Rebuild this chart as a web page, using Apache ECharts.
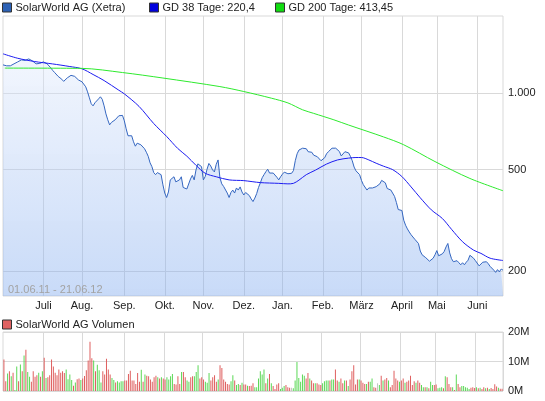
<!DOCTYPE html>
<html>
<head>
<meta charset="utf-8">
<title>SolarWorld AG (Xetra)</title>
<script src="https://cdn.jsdelivr.net/npm/echarts@6/dist/echarts.min.js"></script>
<style>
  html, body { margin: 0; padding: 0; background: #fff; }
  #chart { width: 545px; height: 401px; }
</style>
</head>
<body>
<div id="chart"></div>
<script>
  const FONT = '"Liberation Sans", Arial, sans-serif';
  const MONTHS = ['Jan.', 'Feb.', 'März', 'April', 'Mai', 'Juni', 'Juli', 'Aug.', 'Sep.', 'Okt.', 'Nov.', 'Dez.'];

  // Xetra trading days 01.06.11 - 21.06.12
  const closedDays = ['2011-12-26', '2012-04-06', '2012-04-09', '2012-05-01'];

  // closing price (cent), one per trading day
  const price = [
    1287, 1276, 1276, 1281, 1276, 1287, 1299, 1310, 1322, 1334,
    1346, 1358, 1340, 1352, 1358, 1340, 1334, 1316, 1299, 1281,
    1304, 1316, 1322, 1322, 1299, 1287, 1253, 1225, 1203, 1182,
    1160, 1145, 1130, 1109, 1124, 1145, 1160, 1171, 1166, 1160,
    1150, 1124, 1114, 1104, 1090, 1056, 1009, 956, 906, 889,
    914, 906, 947, 965, 943, 889, 827, 784, 749, 766,
    770, 784, 798, 813, 824, 816, 777, 723, 679, 682,
    679, 643, 618, 635, 645, 626, 635, 604, 585, 564,
    532, 514, 487, 478, 487, 487, 478, 436, 405, 389,
    409, 456, 463, 469, 448, 444, 456, 469, 426, 420,
    420, 422, 460, 475, 456, 499, 527, 522, 514, 456,
    470, 502, 529, 517, 499, 490, 525, 546, 465, 440,
    430, 426, 405, 389, 407, 416, 405, 424, 416, 428,
    409, 398, 407, 413, 396, 384, 375, 387, 403, 426,
    444, 465, 478, 491, 502, 485, 478, 485, 478, 467,
    456, 469, 480, 489, 484, 482, 480, 484, 496, 542,
    577, 597, 589, 607, 616, 604, 588, 596, 585, 570,
    566, 562, 552, 542, 545, 557, 577, 588, 597, 607,
    616, 607, 597, 589, 566, 576, 588, 582, 582, 564,
    542, 512, 495, 498, 478, 454, 437, 430, 416, 424,
    429, 424, 429, 429, 434, 440, 454, 460, 444, 422,
    418, 416, 411, 393, 372, 349, 343, 346, 317, 303,
    293, 285, 278, 275, 267, 264, 257, 240, 232, 230,
    226, 223, 219, 221, 225, 232, 241, 230, 229, 234,
    239, 249, 257, 236, 224, 218, 217, 220, 216, 212,
    216, 212, 217, 221, 231, 228, 225, 220, 217, 210,
    209, 217, 217, 218, 214, 209, 206, 202, 198, 203,
    199, 204, 202
  ];

  // moving averages as [day index, value]
  const gd38 = [
    [0, 1422], [8, 1366], [17, 1327], [27, 1298], [36, 1269], [43, 1242], [49, 1180], [55, 1117],
    [63, 1024], [66, 991], [74, 885], [82, 758], [89, 675], [95, 606], [100, 565], [105, 520],
    [110, 484], [116, 469], [123, 456], [131, 453], [140, 445], [150, 442], [155, 440], [158, 442],
    [161, 455], [165, 478], [170, 498], [176, 526], [182, 546], [188, 555], [192, 558], [195, 558],
    [199, 546], [203, 530], [207, 516], [212, 500], [217, 470], [222, 428], [227, 388], [233, 348],
    [239, 322], [244, 292], [250, 261], [256, 242], [260, 235], [265, 225], [272, 220.4]
  ];
  const gd200 = [
    [1, 1250], [43, 1247], [65, 1201], [87, 1143], [118, 1058], [131, 1012], [146, 953], [155, 913],
    [163, 858], [169, 831], [180, 784], [188, 748], [207, 672], [218, 626], [235, 538], [254, 462],
    [272, 413.45]
  ];

  // volume in millions, per month
  const volume = [
    10.7, 3.3, 5.9, 6.7, 5.0, 6.2, 0.3, 8.3, 3.3, 9.0, 6.7, 12.0, 14.0, 6.4, 4.8, 3.1, 6.7, 4.8, 5.3, 6.2, 4.8, 6.7,
    11.3, 4.4, 4.7, 5.3, 10.7, 8.3, 6.2, 5.3, 7.3, 6.2, 6.7, 6.1, 7.3, 4.0, 5.6, 3.7, 1.8, 2.9, 4.0, 4.2, 3.7,
    4.2, 5.1, 7.0, 10.3, 16.7, 11.1, 10.3, 6.7, 8.9, 7.0, 2.9, 6.7, 5.6, 10.9, 7.3, 5.6, 4.4, 3.7, 2.9, 3.3, 2.9, 3.3, 3.3,
    3.6, 3.6, 5.8, 6.9, 3.6, 3.6, 2.4, 6.1, 3.1, 7.2, 3.1, 5.6, 5.2, 5.0, 3.9, 3.1, 4.7, 5.2, 4.7, 4.2, 4.7, 4.2,
    3.9, 4.7, 3.9, 5.0, 5.8, 2.4, 2.2, 5.0, 2.4, 6.4, 6.4, 4.7, 3.6, 3.1, 4.7, 5.0, 5.0, 6.4, 8.7, 4.2, 4.7,
    3.9, 3.1, 2.8, 6.1, 3.6, 4.7, 5.3, 3.1, 3.9, 8.7, 7.8, 3.9, 3.1, 2.4, 2.2, 3.3, 5.3, 3.6, 2.0, 2.4, 2.0, 2.8,
    2.2, 2.2, 1.8, 1.7, 1.8, 2.6, 1.3, 1.3, 4.2, 6.7, 5.6, 7.3, 2.6, 4.2, 5.8, 2.6, 1.7, 0.7, 2.2, 2.6, 0.7,
    1.1, 1.7, 2.0, 1.3, 1.1, 1.1, 0.9, 3.6, 9.8, 4.4, 3.1, 5.6, 5.2, 4.2, 6.1, 4.2, 3.6, 2.6, 2.6, 2.6, 2.2, 2.0,
    2.6, 3.3, 3.6, 3.6, 3.6, 3.9, 3.9, 7.3, 3.6, 3.1, 4.2, 2.6, 3.6, 3.6, 1.7, 3.9, 6.7, 8.7, 2.2, 3.9, 3.9,
    3.6, 2.8, 2.4, 2.4, 3.1, 3.1, 4.2, 1.3, 1.1, 2.6, 2.0, 5.2, 3.6, 3.9, 4.4, 3.6, 1.3, 2.0, 6.9, 4.2, 3.6, 3.1,
    3.6, 4.2, 2.8, 3.1, 3.6, 5.2, 2.0, 3.3, 2.8, 3.6, 2.8, 2.0, 1.3, 1.3, 1.3, 0.9, 3.1, 2.0, 2.0,
    2.2, 0.9, 1.1, 1.3, 0.9, 5.0, 4.7, 2.4, 1.3, 1.3, 0.3, 5.6, 2.4, 1.3, 1.7, 1.7, 1.3, 1.1, 0.7, 1.1, 1.3, 1.0,
    1.3, 0.9, 1.1, 0.7, 1.3, 0.9, 1.1, 0.7, 1.0, 0.7, 2.3, 1.5, 1.1, 0.8, 0.8
  ];
  // 1 = up day, -1 = down day, 0 = unchanged
  const volumeDir = [
    -1, -1, 1, -1, 1, -1, 1, 1, -1, 1, -1, 1, -1, 1, 1, -1, -1, -1, -1, 1, -1, 1,
    -1, 1, -1, -1, -1, -1, -1, -1, -1, -1, -1, -1, 1, 1, 1, 1, -1, 1, -1, -1, 1,
    -1, -1, -1, -1, -1, -1, 1, -1, 1, 1, 1, -1, -1, -1, -1, -1, 1, 1, -1, 1, 1, 1, 1,
    -1, -1, -1, -1, -1, -1, -1, -1, -1, 1, -1, 1, -1, -1, -1, -1, -1, -1, 1, -1, 1, -1,
    -1, 1, 1, 1, 1, -1, -1, -1, -1, 1, -1, -1, 1, 1, -1, -1, 1, 1, 1, -1, -1,
    -1, 1, 1, 1, -1, -1, -1, -1, 1, -1, -1, -1, -1, -1, -1, 1, 1, -1, 1, 1, -1, 1,
    -1, -1, 1, -1, -1, -1, 1, 1, 1, 1, 1, 1, -1, 1, -1, 1, -1, -1, -1, -1, 1,
    1, 1, -1, -1, -1, 0, 1, 1, 1, 1, 1, 1, 1, -1, -1, 1, -1, -1, 1, -1, -1, -1,
    1, 1, 1, 1, -1, 1, 1, -1, -1, 1, -1, -1, 1, -1, 1, -1, -1, -1, -1, -1, 1,
    -1, -1, -1, 1, -1, 1, 1, -1, -1, 0, 1, -1, 1, -1, -1, 1, -1, -1, -1, -1, -1, 1,
    -1, -1, 1, -1, -1, -1, -1, -1, 1, -1, -1, 1, 1, -1, 1, -1, 1, 1, -1,
    -1, 1, 1, 1, -1, 1, -1, -1, -1, 1, -1, 1, -1, -1, 1, 1, 1, 1, 1, -1, -1, -1,
    1, -1, 1, -1, -1, 1, -1, 1, -1, -1, -1, -1, 1, -1, -1
  ];

  const priceTicks = [200, 500, 1000];

  function tradingDays(start, end, closed) {
    const out = [];
    for (let t = Date.parse(start); t <= Date.parse(end); t += 864e5) {
      const d = new Date(t);
      const wd = d.getUTCDay();
      const s = d.toISOString().slice(0, 10);
      if (wd !== 0 && wd !== 6 && closed.indexOf(s) < 0) out.push(s);
    }
    return out;
  }

  const days = tradingDays('2011-06-01', '2012-06-21', closedDays);
  if (days.length !== price.length || volume.length !== price.length) {
    console.warn('length mismatch', days.length, price.length, volume.length, volumeDir.length);
  }

  const isMonthStart = (i) => i > 0 && days[i].slice(5, 7) !== days[i - 1].slice(5, 7);
  const shortDate = (s) => s.slice(8, 10) + '.' + s.slice(5, 7) + '.' + s.slice(2, 4);
  const deNum = (v) => String(v).replace('.', ',');
  const thousands = (v) => String(Math.round(v)).replace(/\B(?=(\d{3})+(?!\d))/g, '.');

  const nameMain = 'SolarWorld AG (Xetra)';
  const name38 = 'GD 38 Tage: ' + deNum(gd38[gd38.length - 1][1]);
  const name200 = 'GD 200 Tage: ' + deNum(gd200[gd200.length - 1][1]);
  const nameVol = 'SolarWorld AG Volumen';

  const dirColor = { '1': '#5bd856', '-1': '#df5f5f', '0': '#c4c4c4' };

  const legendBase = {
    icon: 'rect',
    itemWidth: 9,
    itemHeight: 9,
    padding: 0,
    selectedMode: false,
    itemStyle: { borderColor: '#333', borderWidth: 1 },
    textStyle: { fontFamily: FONT, fontSize: 11, color: '#222', padding: [0, 0, 0, -1] }
  };

  const gridLine = { lineStyle: { color: '#d9d9d9', width: 1 } };

  const chart = echarts.init(document.getElementById('chart'), null, { renderer: 'canvas' });
  chart.setOption({
    animation: false,
    textStyle: { fontFamily: FONT },
    legend: [
      Object.assign({ data: [nameMain], left: 2, top: 2 }, legendBase),
      Object.assign({ data: [name38], left: 149, top: 2 }, legendBase),
      Object.assign({ data: [name200], left: 275, top: 2 }, legendBase),
      Object.assign({ data: [nameVol], left: 2, top: 319 }, legendBase)
    ],
    grid: [
      { left: 3, right: 42, top: 16, height: 280, show: true, borderColor: '#d9d9d9', borderWidth: 1 },
      { left: 3, right: 42, top: 332, height: 59, show: true, borderColor: '#d9d9d9', borderWidth: 1 }
    ],
    xAxis: [
      {
        type: 'category',
        gridIndex: 0,
        data: days,
        boundaryGap: false,
        axisLine: { show: false },
        axisTick: { show: false },
        axisLabel: {
          interval: (i) => isMonthStart(i),
          formatter: (v) => MONTHS[+v.slice(5, 7) - 1],
          color: '#222',
          fontSize: 11,
          margin: 4
        },
        splitLine: Object.assign({ show: true, interval: (i) => isMonthStart(i) }, gridLine)
      },
      {
        type: 'category',
        gridIndex: 1,
        data: days,
        boundaryGap: true,
        axisLine: { show: false },
        axisTick: { show: false },
        axisLabel: { show: false },
        splitLine: Object.assign({ show: true, interval: (i) => isMonthStart(i) }, gridLine)
      }
    ],
    yAxis: [
      {
        type: 'log',
        logBase: 10,
        gridIndex: 0,
        position: 'right',
        min: 160,
        max: 2000,
        axisLine: { show: false },
        axisTick: { show: false, customValues: priceTicks },
        axisLabel: {
          customValues: priceTicks,
          formatter: (v) => thousands(v),
          color: '#222',
          fontSize: 11,
          margin: 5
        },
        splitLine: Object.assign({ show: true }, gridLine)
      },
      {
        type: 'value',
        gridIndex: 1,
        position: 'right',
        min: 0,
        max: 20,
        interval: 10,
        axisLine: { show: false },
        axisTick: { show: false },
        axisLabel: { formatter: (v) => v + 'M', color: '#222', fontSize: 11, margin: 5 },
        splitLine: Object.assign({ show: true }, gridLine)
      }
    ],
    series: [
      {
        name: nameMain,
        type: 'line',
        data: price,
        symbol: 'none',
        color: '#2d62b6',
        lineStyle: { color: '#3466c0', width: 1 },
        areaStyle: {
          origin: 'start',
          color: new echarts.graphic.LinearGradient(0, 0, 0, 1, [
            { offset: 0, color: 'rgba(223,233,252,0.6)' },
            { offset: 1, color: 'rgba(128,170,238,0.62)' }
          ])
        },
        z: 2
      },
      {
        name: name38,
        type: 'line',
        data: gd38,
        symbol: 'none',
        smooth: 0.3,
        color: '#0000dd',
        lineStyle: { color: '#1c1cf0', width: 1 },
        z: 3
      },
      {
        name: name200,
        type: 'line',
        data: gd200,
        symbol: 'none',
        smooth: 0.3,
        color: '#11dd11',
        lineStyle: { color: '#2eea2e', width: 1 },
        z: 3
      },
      {
        name: nameVol,
        type: 'bar',
        xAxisIndex: 1,
        yAxisIndex: 1,
        barWidth: 1,
        color: '#e06262',
        data: volume.map((v, i) => ({ value: v, itemStyle: { color: dirColor[String(volumeDir[i])] } }))
      }
    ],
    graphic: [
      {
        type: 'text',
        left: 8,
        top: 284,
        z: 10,
        style: {
          text: shortDate(days[0]) + ' - ' + shortDate(days[days.length - 1]),
          fill: '#a3a3a3',
          font: '11px ' + FONT
        }
      }
    ]
  });
</script>
</body>
</html>
